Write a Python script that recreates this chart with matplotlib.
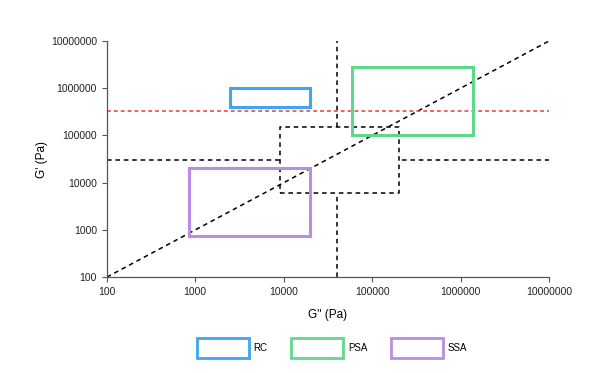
import matplotlib
matplotlib.use("Agg")
import matplotlib.pyplot as plt
from matplotlib.patches import Rectangle, Patch

plt.rcParams['font.family'] = ['Liberation Sans', 'DejaVu Sans']

# regions (G'' min, G'' max, G' min, G' max)
names = ['RC', 'PSA', 'SSA']
colors = ['#3fa6ee', '#5fd88a', '#b98ee2']
x_lo = [2500, 60000, 850]
x_hi = [20000, 1400000, 20000]
y_lo = [400000, 100000, 750]
y_hi = [1000000, 2800000, 20000]

red_level = 330000
diag = [100, 10000000]

# black dashed "window"
win_x = [9000, 200000]
win_y = [6000, 150000]
v_line_x = 40000
h_line_y = 30000

ticks = [100, 1000, 10000, 100000, 1000000, 10000000]
tick_labels = ['100', '1000', '10000', '100000', '1000000', '10000000']

fig = plt.figure(figsize=(6, 3.73), dpi=100)
ax = fig.add_axes([0.178, 0.257, 0.737, 0.633])
ax.set_xscale('log')
ax.set_yscale('log')
ax.set_xlim(100, 10000000)
ax.set_ylim(100, 10000000)

dash = dict(color='black', lw=1.1, ls=(0, (3, 2.5)))
# diagonal G' = G''
ax.plot(diag, diag, **dash)
# window box
ax.plot([win_x[0], win_x[1], win_x[1], win_x[0], win_x[0]],
        [win_y[0], win_y[0], win_y[1], win_y[1], win_y[0]], **dash)
# vertical line outside window
ax.plot([v_line_x, v_line_x], [win_y[1], 10000000], **dash)
ax.plot([v_line_x, v_line_x], [100, win_y[0]], **dash)
# horizontal line outside window
ax.plot([100, win_x[0]], [h_line_y, h_line_y], **dash)
ax.plot([win_x[1] * 1.1, 10000000], [h_line_y, h_line_y], **dash)

ax.plot([100, 10000000], [red_level, red_level], color='#e8393a', lw=1.1,
        ls=(0, (2.5, 2)))

for i in range(len(names)):
    ax.add_patch(Rectangle((x_lo[i], y_lo[i]), x_hi[i] - x_lo[i], y_hi[i] - y_lo[i],
                           facecolor='none', edgecolor=colors[i], lw=2.2, zorder=3))

ax.set_xticks(ticks)
ax.set_xticklabels(tick_labels)
ax.set_yticks(ticks)
ax.set_yticklabels(tick_labels)
ax.minorticks_off()
ax.tick_params(labelsize=7.5, length=3.5, width=0.8, color='#555555', labelcolor='#222222')
for s in ['top', 'right']:
    ax.spines[s].set_visible(False)
for s in ['left', 'bottom']:
    ax.spines[s].set_color('#555555')
    ax.spines[s].set_linewidth(0.9)

ax.set_xlabel('G\'\' (Pa)', fontsize=8.5, labelpad=9)
ax.set_ylabel('G\' (Pa)', fontsize=8.5, labelpad=2)

handles = [Patch(facecolor='white', edgecolor=c, lw=2) for c in colors]
fig.legend(handles, names, loc='center', bbox_to_anchor=(0.553, 0.067), ncol=3,
           frameon=False, fontsize=7, handlelength=5.4, handleheight=2.9,
           handletextpad=0.45, columnspacing=2.4)

fig.savefig('out.png', dpi=100)
